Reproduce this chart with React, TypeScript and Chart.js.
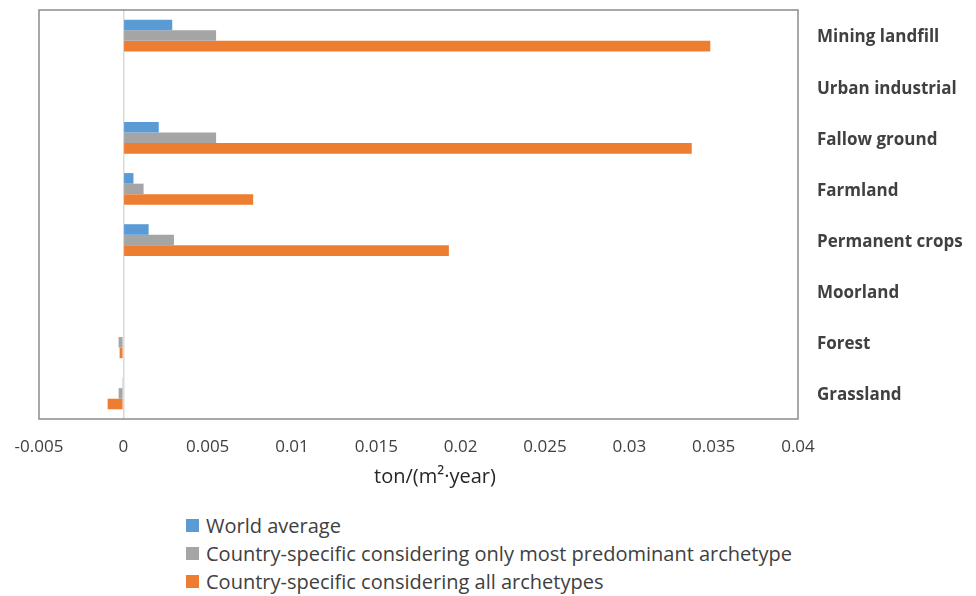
import React, { useEffect, useRef } from "react";
import { Chart, registerables } from "chart.js";

Chart.register(...registerables);

// Land-use categories, listed top to bottom
const categories = [
  "Mining landfill",
  "Urban industrial",
  "Fallow ground",
  "Farmland",
  "Permanent crops",
  "Moorland",
  "Forest",
  "Grassland",
];

// Values in ton/(m²·year)
const worldAverage = [0.0029, 0, 0.0021, 0.0006, 0.0015, 0, 0, -0.00006];
const predominantArchetype = [0.0055, 0, 0.0055, 0.0012, 0.003, 0, -0.00028, -0.00028];
const allArchetypes = [0.0348, 0, 0.0337, 0.0077, 0.0193, 0, -0.00022, -0.00093];

const seriesNames = [
  "World average",
  "Country-specific considering only most predominant archetype",
  "Country-specific considering all archetypes",
];
const seriesColors = ["#5B9BD5", "#A5A5A5", "#ED7D31"];

const axisMin = -0.005;
const axisMax = 0.04;
const axisStep = 0.005;
const axisTitle = "ton/(m²·year)";

const FONT = "'Open Sans', 'Noto Sans', sans-serif";

// Frame around the plot area plus the horizontal axis title
const framePlugin = {
  id: "plotFrame",
  afterDraw(chart: any) {
    const { ctx, chartArea } = chart;
    ctx.save();
    ctx.strokeStyle = "#8c8c8c";
    ctx.lineWidth = 1.5;
    ctx.strokeRect(
      chartArea.left,
      chartArea.top,
      chartArea.right - chartArea.left,
      chartArea.bottom - chartArea.top
    );
    ctx.fillStyle = "#262626";
    ctx.font = `20px ${FONT}`;
    ctx.textAlign = "center";
    ctx.textBaseline = "middle";
    ctx.fillText(axisTitle, chartArea.left + 396, chartArea.bottom + 58);
    ctx.restore();
  },
};

export default function App() {
  const canvasRef = useRef<HTMLCanvasElement | null>(null);

  useEffect(() => {
    const canvas = canvasRef.current;
    if (!canvas) return;
    const values = [worldAverage, predominantArchetype, allArchetypes];
    const chart = new Chart(canvas, {
      type: "bar",
      data: {
        labels: categories,
        datasets: values.map((data, i) => ({
          label: seriesNames[i],
          data,
          backgroundColor: seriesColors[i],
          borderWidth: 0,
          categoryPercentage: 0.62,
          barPercentage: 1,
        })),
      },
      options: {
        indexAxis: "y",
        responsive: false,
        animation: false,
        layout: { padding: { left: 39, top: 10, right: 0, bottom: 0 } },
        plugins: {
          legend: { display: false },
          tooltip: { enabled: false },
        },
        scales: {
          x: {
            type: "linear",
            position: "bottom",
            min: axisMin,
            max: axisMax,
            ticks: {
              stepSize: axisStep,
              padding: 18,
              color: "#404040",
              font: { family: FONT, size: 17 },
              callback: (v: any) => String(Number(Number(v).toFixed(3))),
            },
            grid: {
              drawTicks: false,
              lineWidth: 1.5,
              color: (ctx: any) =>
                ctx.tick && Math.abs(ctx.tick.value) < 1e-9 ? "#d9d9d9" : "rgba(0,0,0,0)",
            },
            border: { display: false },
            afterFit: (scale: any) => {
              scale.height = 81;
              scale.paddingLeft = 0;
              scale.paddingRight = 0;
            },
          },
          y: {
            type: "category",
            position: "right",
            ticks: {
              padding: 19,
              labelOffset: 2,
              color: "#404040",
              font: { family: FONT, size: 17, weight: "bold" },
            },
            grid: { display: false, drawTicks: false },
            border: { display: false },
            afterFit: (scale: any) => {
              scale.width = 178;
              scale.paddingTop = 0;
              scale.paddingBottom = 0;
            },
          },
        },
      },
      plugins: [framePlugin],
    });
    return () => chart.destroy();
  }, []);

  return (
    <div
      style={{
        position: "fixed",
        left: 0,
        top: 0,
        width: 976,
        height: 596,
        background: "#ffffff",
        fontFamily: FONT,
      }}
    >
      <canvas ref={canvasRef} width={976} height={500} style={{ display: "block" }} />
      <div style={{ position: "absolute", left: 186, top: 511 }}>
        {seriesNames.map((name, i) => (
          <div
            key={name}
            style={{
              display: "flex",
              alignItems: "center",
              height: 28,
              fontSize: 20,
              color: "#404040",
              whiteSpace: "nowrap",
            }}
          >
            <span
              style={{
                display: "inline-block",
                width: 13,
                height: 13,
                background: seriesColors[i],
                marginRight: 7,
              }}
            />
            {name}
          </div>
        ))}
      </div>
    </div>
  );
}
